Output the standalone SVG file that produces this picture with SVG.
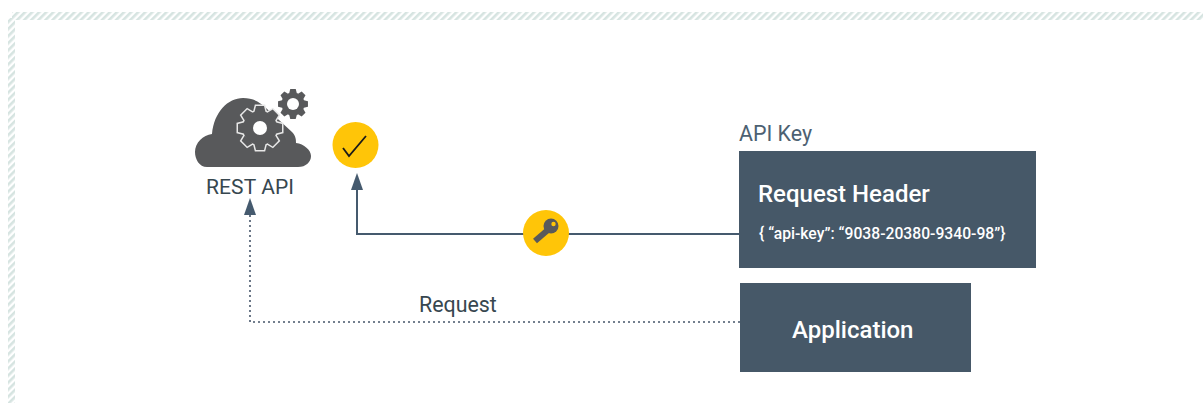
<svg xmlns="http://www.w3.org/2000/svg" width="1203" height="403" viewBox="0 0 1203 403">
<style>
text{font-family:Roboto,"Liberation Sans",sans-serif}
.box{fill:#465868}
.wt{fill:#fff;font-weight:500}
.badge{fill:#ffc508}
.conn{fill:none;stroke:#455a6e;stroke-width:2}
.dot{fill:none;stroke:#46566a;stroke-width:1.600;stroke-dasharray:2 3}
.ico{fill:#58595b}
</style>
<defs>
<pattern id="hatch" width="5" height="5" patternUnits="userSpaceOnUse" patternTransform="rotate(-45)">
<rect width="5" height="5" fill="#fff"/><rect width="5" height="2.600" fill="#d6e4e1"/>
</pattern>
<path id="tooth" d="M-5.500 -16L-4 -22L4 -22L5.500 -16Z"/>
<g id="gear">
<circle r="17"/>
<use href="#tooth"/>
<use href="#tooth" transform="rotate(45)"/>
<use href="#tooth" transform="rotate(90)"/>
<use href="#tooth" transform="rotate(135)"/>
<use href="#tooth" transform="rotate(180)"/>
<use href="#tooth" transform="rotate(225)"/>
<use href="#tooth" transform="rotate(270)"/>
<use href="#tooth" transform="rotate(315)"/>
</g>
</defs>
<rect width="1203" height="403" fill="#fff"/>
<g id="frame">
<rect x="12" y="12" width="1191" height="8" fill="url(#hatch)"/>
<rect x="8" y="18" width="7" height="385" fill="url(#hatch)"/>
</g>
<g id="connectors">
<path class="conn" d="M739 234H357V190"/>
<path d="M351 190L357 173L363 190Z" fill="#455a6e"/>
<path class="dot" d="M740 322H250V215"/>
<path d="M244 215L250 198L256 215Z" fill="#455a6e"/>
</g>
<g id="rest-api">
<path class="ico" d="M207 167C199 167 195 159 195 152C195 143 203 135 212 134C214 112 228 98 243 98C253 98 260 102 266 108L292 132C296 136 296 140 296 143C304 144 311 150 311 156C311 162 306 167 298 167Z"/>
<use href="#gear" transform="translate(260 128)" fill="#e8e8e8" stroke="#e8e8e8" stroke-width="3"/>
<use href="#gear" transform="translate(260 128)" fill="#58595b"/>
<circle cx="260" cy="128" r="7" fill="#fff"/>
<use href="#gear" transform="translate(293 104) scale(.68)" fill="#58595b"/>
<circle cx="293" cy="104" r="6" fill="#fff"/>
<text x="250" y="194" font-size="21" text-anchor="middle" fill="#37474f" textLength="88">REST API</text>
</g>
<g id="check">
<circle class="badge" cx="355.500" cy="145" r="23"/>
<path d="M343 148L349 156L366 136" fill="none" stroke="#1a1a1a" stroke-width="1.800"/>
</g>
<g id="key">
<circle class="badge" cx="546" cy="233" r="23"/>
<path d="M535 241L549 229" stroke="#58595b" stroke-width="6" fill="none"/>
<circle class="ico" cx="551" cy="226" r="7.500"/>
<circle cx="553.500" cy="224" r="2.200" fill="#ffc508"/>
</g>
<text x="739" y="141" font-size="21.400" fill="#4d6172">API Key</text>
<g id="request-header">
<rect class="box" x="739" y="151" width="297" height="117"/>
<text class="wt" x="758" y="202" font-size="24">Request Header</text>
<text class="wt" x="759" y="239" font-size="15.700">{ “api-key”: “9038-20380-9340-98”}</text>
</g>
<g id="application">
<rect class="box" x="740" y="283" width="231" height="89"/>
<text class="wt" x="792" y="338" font-size="24">Application</text>
</g>
<text x="419" y="312" font-size="21.400" fill="#37474f">Request</text>
</svg>
